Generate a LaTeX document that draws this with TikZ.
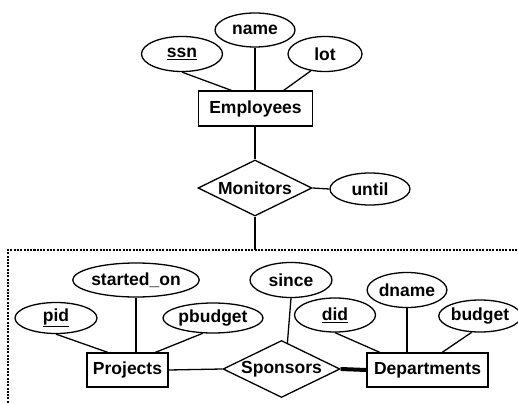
\documentclass[tikz,border=0pt]{standalone}
\usepackage{fontspec}
\setmainfont{Liberation Sans}
\usetikzlibrary{shapes.geometric,calc}
\begin{document}
\begin{tikzpicture}[x=1pt,y=-1pt,
  every node/.style={font=\fontsize{17.5}{18}\selectfont\bfseries, inner sep=0pt},
  attr/.style={draw, ellipse, line width=1.3pt},
  ent/.style={draw, rectangle, line width=1.3pt},
  rel/.style={draw, diamond, aspect=2.05, line width=1.3pt},
  conn/.style={line width=1.3pt},
  dots/.style={line width=2pt, dash pattern=on 2pt off 1.3pt}]
\useasboundingbox (0,0) rectangle (518,403);
% Top part
\node[ent, minimum width=114pt, minimum height=35pt] (emp) at (255.5,108.5) {Employees};
\node[attr, minimum width=81pt, minimum height=35pt] (ssn) at (182,54) {\underline{ssn}};
\node[attr, minimum width=80pt, minimum height=34pt] (name) at (255,30) {name};
\node[attr, minimum width=74pt, minimum height=35pt] (lot) at (325,54) {lot};
\node[rel, minimum width=114pt, minimum height=56pt] (mon) at (255,188) {Monitors};
\node[attr, minimum width=80pt, minimum height=32pt] (until) at (370,189) {until};
\draw[conn] (ssn.south) -- ($(emp.north west)!0.29!(emp.north east)$);
\draw[conn] (name.south) -- (name.south |- emp.north);
\draw[conn] (lot.-130) -- ($(emp.north west)!0.745!(emp.north east)$);
\draw[conn] (mon.north |- emp.south) -- (mon.north);
\draw[conn] (mon.east) -- (until.west);
% dotted aggregation box
\coordinate (dtl) at (8,250);
\coordinate (dtr) at (522,250);
\coordinate (dbl) at (8,406);
\draw[dots] (dbl) -- (dtl) -- (dtr);
\draw[conn] (mon.south) -- (mon.south |- dtl);
% Bottom part
\node[ent, minimum width=81pt, minimum height=34pt] (proj) at (127.5,370) {Projects};
\node[attr, minimum width=82pt, minimum height=31pt] (pid) at (56,318) {\underline{pid}};
\node[attr, minimum width=97pt, minimum height=34pt] (so) at (136,280) {started\_on};
\node[attr, minimum width=100pt, minimum height=30pt] (pb) at (213,318) {pbudget};
\node[rel, minimum width=117pt, minimum height=57pt] (spon) at (281.5,369) {Sponsors};
\node[attr, minimum width=82pt, minimum height=35pt] (since) at (291,280) {since};
\node[ent, minimum width=121pt, minimum height=34pt] (dep) at (427.5,370) {Departments\hspace{7pt}};
\node[attr, minimum width=81pt, minimum height=34pt] (did) at (335,315) {\underline{did}};
\node[attr, minimum width=79pt, minimum height=35pt] (dname) at (407,290) {dname};
\node[attr, minimum width=74pt, minimum height=32pt] (budget) at (480,316) {budget};
\draw[conn] (pid.south) -- ($(proj.north west)!0.26!(proj.north east)$);
\draw[conn] (so.south) -- (so.south |- proj.north);
\draw[conn] (pb.-124) -- ($(proj.north west)!0.84!(proj.north east)$);
\draw[conn] (proj.east) -- (spon.west);
\draw[conn] (since.south) -- ($(spon.north)!0.1!(spon.east)$);
\draw[line width=4pt] (spon.east) -- (dep.west);
\draw[conn] (did.south) -- ($(dep.north west)!0.11!(dep.north east)$);
\draw[conn] (dname.south) -- (dname.south |- dep.north);
\draw[conn] (budget.-117) -- ($(dep.north west)!0.62!(dep.north east)$);
\end{tikzpicture}
\end{document}
